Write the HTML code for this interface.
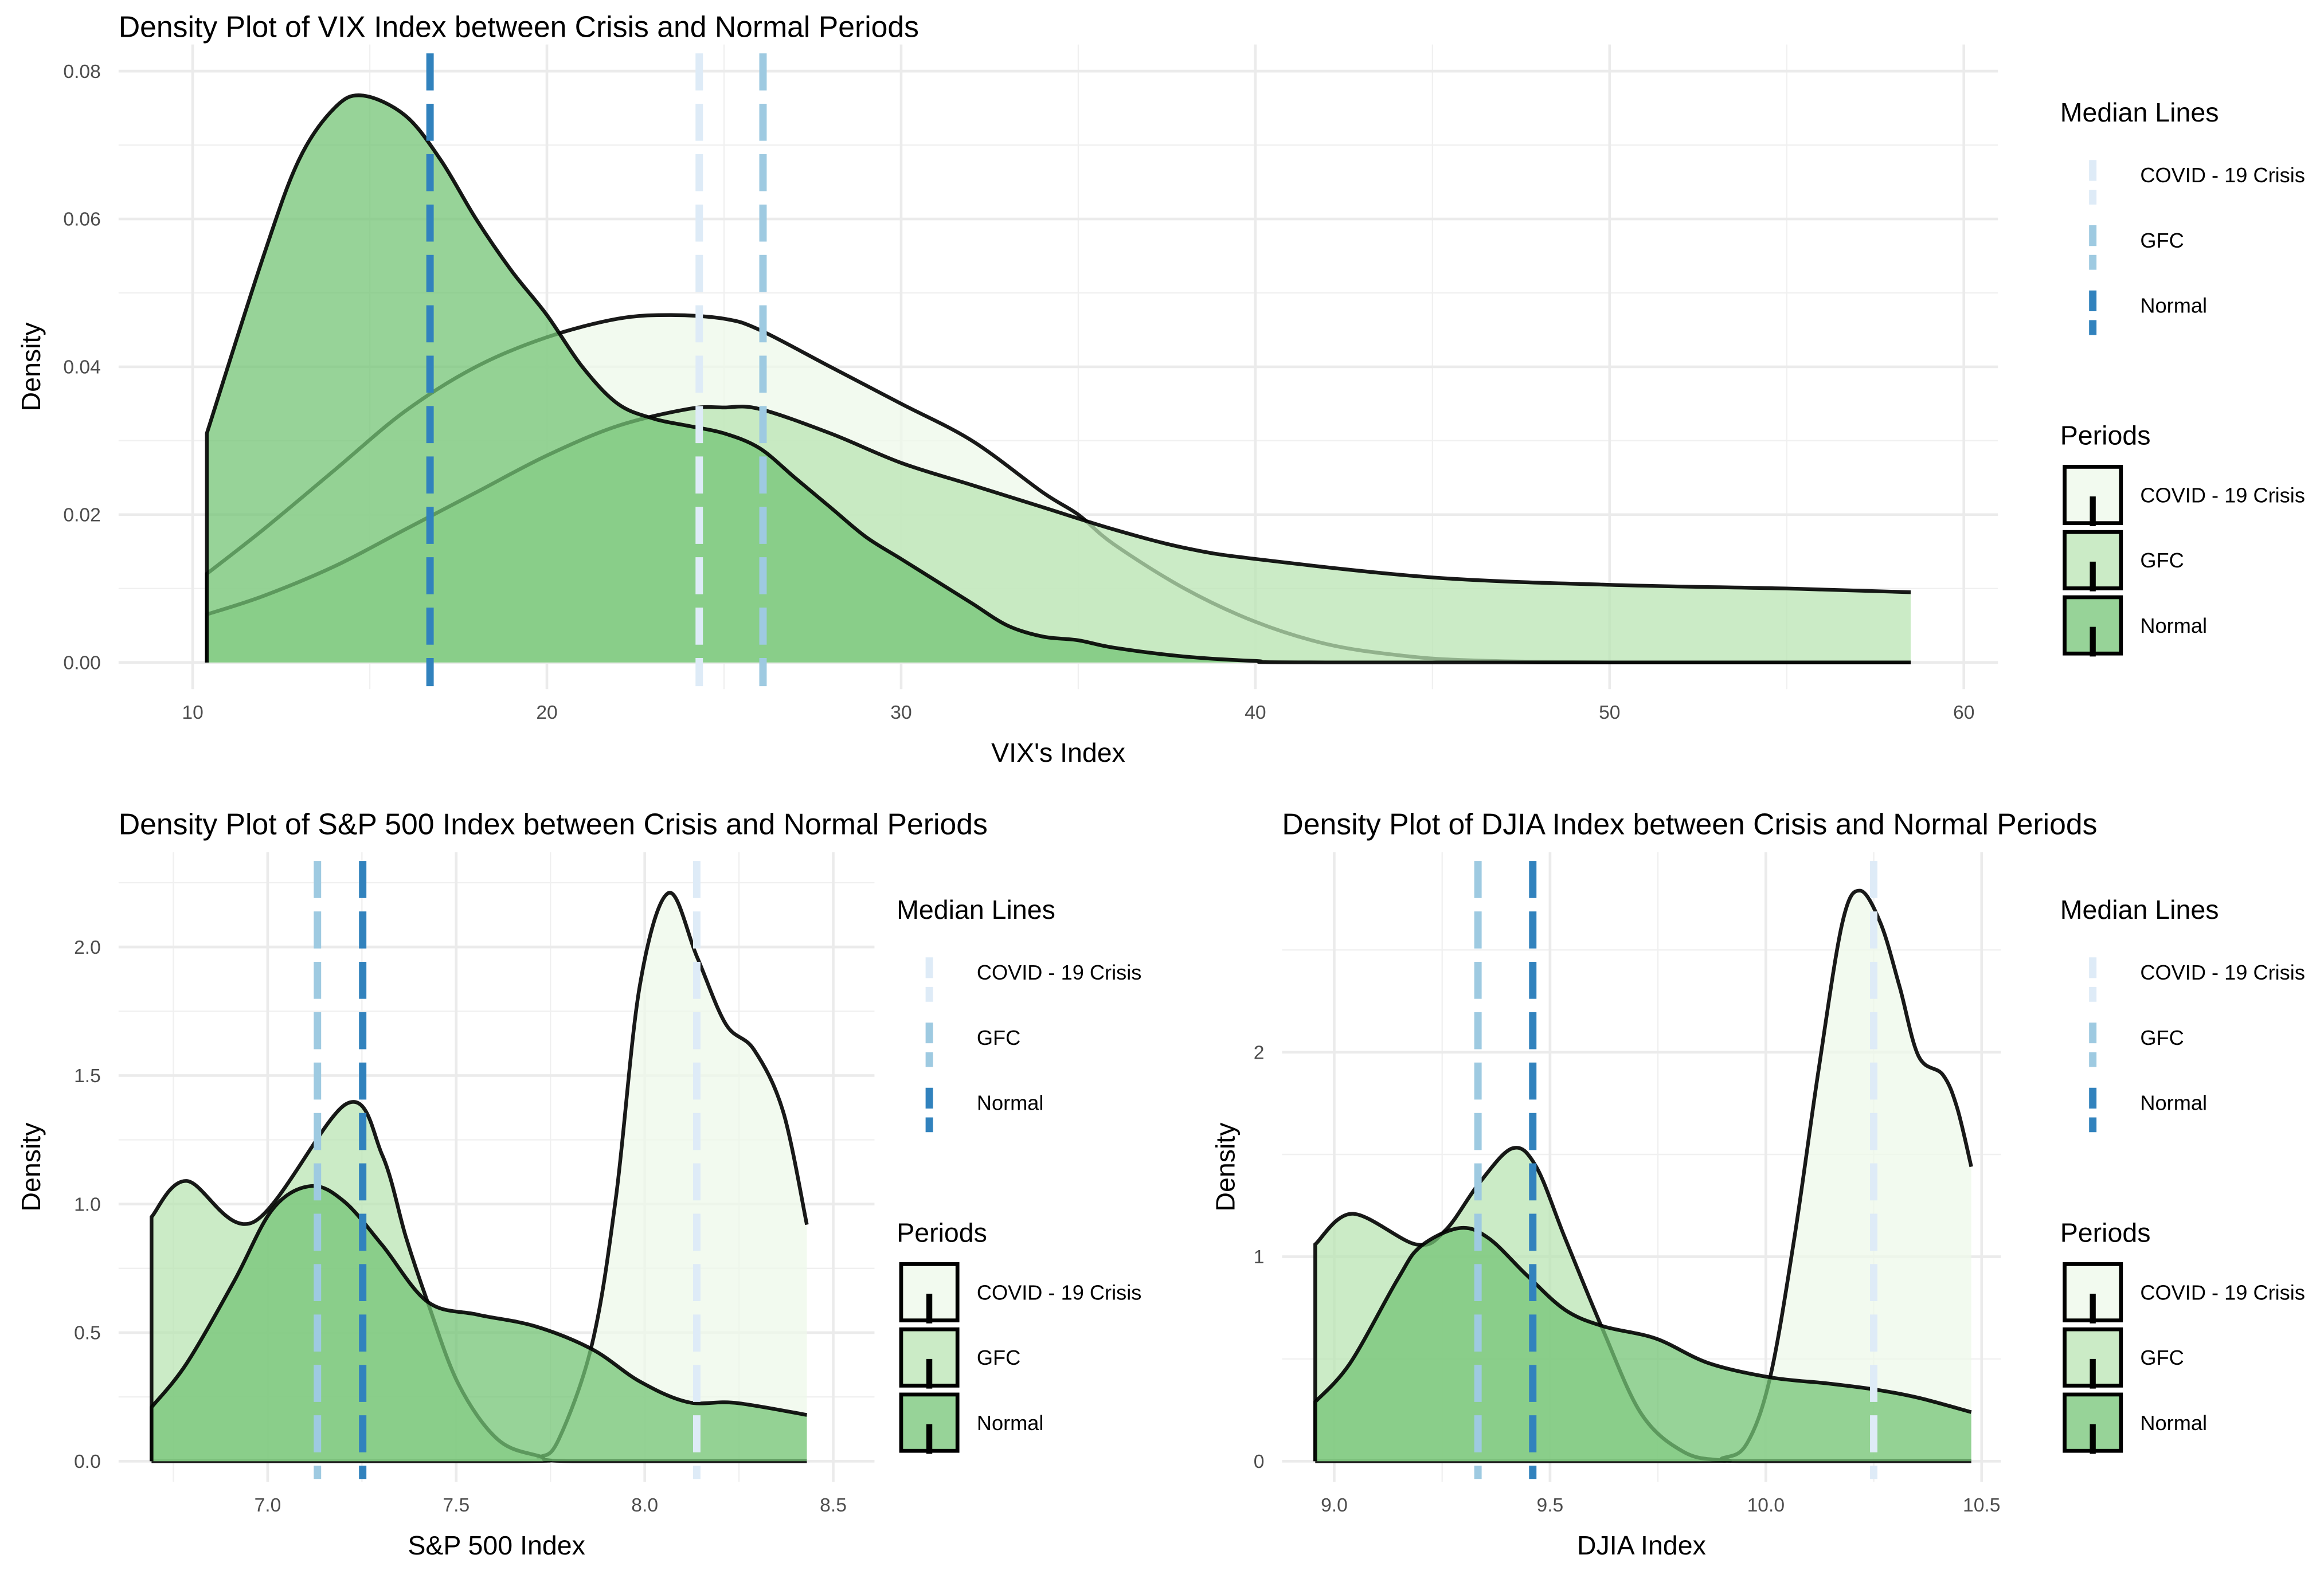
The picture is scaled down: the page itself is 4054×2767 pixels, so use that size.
<!DOCTYPE html>
<html><head><meta charset="utf-8"><style>
html,body{margin:0;padding:0;background:#fff}
svg{display:block;font-family:"Liberation Sans",sans-serif}
</style></head><body>
<svg id="c" width="4054" height="2767" viewBox="0 0 1568 1070.2" xmlns="http://www.w3.org/2000/svg"></svg>
<script>
// ---- VIX data ----
const vixNormalX=[10.4,12,13,14,14.8,16,17,18,19,20,21,22,23,24,25,26,27,28,29,30,31,32,33,34,35,36,38,40,42,58.5];
const vixNormalY=[0.031,0.055,0.068,0.075,0.0767,0.074,0.068,0.06,0.053,0.047,0.04,0.035,0.033,0.032,0.031,0.029,0.025,0.021,0.017,0.014,0.011,0.008,0.005,0.0035,0.003,0.002,0.0008,0.0002,0,0];
const vixCovidX=[10.4,12,14,16,18,20,22,23.5,25,26,28,30,32,34,35,36,38,40,42,44,46,50,58.5];
const vixCovidY=[0.012,0.018,0.026,0.034,0.04,0.044,0.0465,0.047,0.0465,0.045,0.04,0.035,0.03,0.023,0.02,0.016,0.01,0.0055,0.0025,0.001,0.0003,0,0];
const vixGfcX=[10.4,12,14,16,18,20,22,24,25,26,28,30,32,34,36,38,40,45,50,55,58.5];
const vixGfcY=[0.0065,0.009,0.013,0.018,0.023,0.028,0.032,0.0343,0.0345,0.0343,0.031,0.027,0.024,0.021,0.018,0.0155,0.014,0.0115,0.0105,0.01,0.0095];
const vixMedians=[24.3,26.1,16.7]; // COVID, GFC, Normal
const vixXTicks=[10,20,30,40,50,60];
const vixYTicks=[0,0.02,0.04,0.06,0.08];
const vixYLabels=["0.00","0.02","0.04","0.06","0.08"];
// ---- S&P data ----
const spNormalX=[6.692,6.785,6.911,7.013,7.114,7.203,7.304,7.424,7.557,7.709,7.861,7.987,8.114,8.24,8.43];
const spNormalY=[0.21,0.38,0.70,0.98,1.07,1.01,0.84,0.62,0.57,0.525,0.435,0.31,0.23,0.227,0.18];
const spGfcX=[6.692,6.785,6.962,7.209,7.304,7.367,7.424,7.506,7.61,7.72,7.81,8.43];
const spGfcY=[0.95,1.09,0.93,1.39,1.19,0.87,0.62,0.30,0.085,0.02,0,0];
const spCovidX=[6.692,7.66,7.72,7.772,7.861,7.924,7.987,8.063,8.139,8.215,8.29,8.367,8.43];
const spCovidY=[0,0,0.015,0.085,0.46,1.03,1.85,2.21,1.96,1.70,1.60,1.36,0.92];
const spMedians=[8.138,7.132,7.252];
const spXTicks=[7.0,7.5,8.0,8.5];
const spXLabels=["7.0","7.5","8.0","8.5"];
const spYTicks=[0,0.5,1,1.5,2];
const spYLabels=["0.0","0.5","1.0","1.5","2.0"];
// ---- DJIA data ----
const djNormalX=[8.956,9.037,9.147,9.2,9.29,9.358,9.446,9.535,9.623,9.745,9.867,10.01,10.144,10.255,10.354,10.476];
const djNormalY=[0.29,0.48,0.89,1.05,1.14,1.09,0.91,0.74,0.66,0.6,0.48,0.41,0.38,0.35,0.31,0.24];
const djGfcX=[8.956,9.042,9.19,9.258,9.336,9.413,9.468,9.535,9.623,9.712,9.81,9.9,10.0,10.476];
const djGfcY=[1.06,1.21,1.06,1.13,1.36,1.53,1.44,1.09,0.64,0.23,0.045,0.004,0,0];
const djCovidX=[8.956,9.83,9.9,9.956,10.01,10.066,10.122,10.177,10.218,10.266,10.31,10.354,10.41,10.443,10.476];
const djCovidY=[0,0,0.015,0.086,0.41,1.09,1.91,2.63,2.79,2.63,2.32,1.98,1.89,1.73,1.44];
const djMedians=[10.25,9.333,9.46];
const djXTicks=[9.0,9.5,10.0,10.5];
const djXLabels=["9.0","9.5","10.0","10.5"];
const djYTicks=[0,1,2];
const djYLabels=["0","1","2"];

const NS="http://www.w3.org/2000/svg";
const svg=document.getElementById('c');
function mk(tag,attrs,parent){const e=document.createElementNS(NS,tag);for(const k in attrs)e.setAttribute(k,attrs[k]);(parent||svg).appendChild(e);return e;}
function txt(s,attrs,parent){const e=mk('text',attrs,parent);e.textContent=s;return e;}
const fills=["#edf8e9","#bae4b3","#74c476"];
const medCols=["#deebf7","#9ecae1","#3182bd"];
const names=["covid","gfc","normal"];
function smooth(pts,base){let d="M"+pts[0][0]+","+pts[0][1];
  for(let i=0;i<pts.length-1;i++){const p0=pts[Math.max(0,i-1)],p1=pts[i],p2=pts[i+1],p3=pts[Math.min(pts.length-1,i+2)];
    let c1=[p1[0]+(p2[0]-p0[0])/6,Math.min(base,p1[1]+(p2[1]-p0[1])/6)],c2=[p2[0]-(p3[0]-p1[0])/6,Math.min(base,p2[1]-(p3[1]-p1[1])/6)];
    d+=" C"+c1[0]+","+c1[1]+" "+c2[0]+","+c2[1]+" "+p2[0]+","+p2[1];}
  return d;}
function panel(o){
  const g=mk('g',{});
  
  
  const sx=v=>o.x0+(v-o.xv0)*o.kx, sy=v=>o.y0-v*o.ky;
  for(let i=0;i<o.xt.length-1;i++){const m=(o.xt[i]+o.xt[i+1])/2;mk('line',{x1:sx(m),x2:sx(m),y1:o.top,y2:o.bot,stroke:'#f0f0f0','stroke-width':0.9},g);}
  if(o.xminEdge){mk('line',{x1:sx(o.xminEdge),x2:sx(o.xminEdge),y1:o.top,y2:o.bot,stroke:'#f0f0f0','stroke-width':0.9},g);}
  for(let i=0;i<o.yt.length-1;i++){const m=(o.yt[i]+o.yt[i+1])/2;mk('line',{x1:o.left,x2:o.right,y1:sy(m),y2:sy(m),stroke:'#f0f0f0','stroke-width':0.9},g);}
  if(o.yExtra){const m=o.yt[o.yt.length-1]+(o.yt[1]-o.yt[0])/2;mk('line',{x1:o.left,x2:o.right,y1:sy(m),y2:sy(m),stroke:'#f0f0f0','stroke-width':0.9},g);}
  o.xt.forEach((t,i)=>{mk('line',{x1:sx(t),x2:sx(t),y1:o.top,y2:o.bot,stroke:'#ebebeb','stroke-width':1.8},g);
    const l=txt(o.xl[i],{x:sx(t),y:o.bot+20,'font-size':13,fill:'#4d4d4d','text-anchor':'middle'},g);
    });
  o.yt.forEach((t,i)=>{mk('line',{x1:o.left,x2:o.right,y1:sy(t),y2:sy(t),stroke:'#ebebeb','stroke-width':1.8},g);
    const l=txt(o.yl[i],{x:o.left-12,y:sy(t)+4.5,'font-size':13,fill:'#4d4d4d','text-anchor':'end'},g);
    });
  o.series.forEach((s,i)=>{
    const pts=s[0].map((x,j)=>[sx(x),sy(s[1][j])]);
    const top=smooth(pts,sy(0));
    const a=mk('path',{d:top+" L"+pts[pts.length-1][0]+","+sy(0)+" L"+pts[0][0]+","+sy(0)+" Z",fill:fills[i],'fill-opacity':0.75,stroke:'none'},g);
    
    const l=mk('path',{d:"M"+pts[0][0]+","+sy(0)+" L"+pts[0][0]+","+pts[0][1]+top.replace(/^M[^ ]+/,''),fill:'none',stroke:'#000','stroke-width':2.5,'stroke-opacity':0.9},g);
    
  });
  o.med.forEach((m,i)=>{const l=mk('line',{x1:sx(m),x2:sx(m),y1:o.top+6,y2:o.bot-2,stroke:medCols[i],'stroke-width':5,'stroke-dasharray':'25 9'},g);
    });
  const t=txt(o.title,{x:o.titleX,y:o.titleY,'font-size':20,fill:'#000'},g);
  const xa=txt(o.xlab,{x:(o.left+o.right)/2,y:o.bot+49,'font-size':18,fill:'#000','text-anchor':'middle'},g);
  const ya=txt('Density',{x:0,y:0,'font-size':18,fill:'#000','text-anchor':'middle',transform:`translate(${o.ylabX},${(o.top+o.bot)/2}) rotate(-90)`},g);
  const L=o.lx, T=o.ly;
  const lg=mk('g',{},g);
  txt('Median Lines',{x:L,y:T,'font-size':18,fill:'#000'},lg);
  const labs=['COVID - 19 Crisis','GFC','Normal'];
  labs.forEach((s,i)=>{const cy=T+36+i*44;
    const e=mk('line',{x1:L+22,x2:L+22,y1:cy-10,y2:cy+20,stroke:medCols[i],'stroke-width':5,'stroke-dasharray':'14 6'},lg);
    
    const tt=txt(s,{x:L+54,y:cy+5,'font-size':14,fill:'#000'},lg);});
  txt('Periods',{x:L,y:T+218,'font-size':18,fill:'#000'},lg);
  labs.forEach((s,i)=>{const by=T+233+i*44;
    const r=mk('rect',{x:L+3,y:by,width:38,height:38,fill:fills[i],'fill-opacity':0.75,stroke:'#000','stroke-width':2.6},lg);
    
    mk('line',{x1:L+22,x2:L+22,y1:by+20,y2:by+40,stroke:'#000','stroke-width':4},lg);
    const tt=txt(s,{x:L+54,y:by+24,'font-size':14,fill:'#000'},lg);});
}
panel({id:'vix',x0:130,xv0:10,kx:23.9,y0:447,ky:4987.5,left:80,right:1348,top:30,bot:465,
  xt:vixXTicks,xl:vixXTicks.map(String),yt:vixYTicks,yl:vixYLabels,yExtra:true,
  series:[[vixCovidX,vixCovidY],[vixGfcX,vixGfcY],[vixNormalX,vixNormalY]],med:vixMedians,
  title:'Density Plot of VIX Index between Crisis and Normal Periods',titleX:80,titleY:25,xlab:"VIX's Index",ylabX:27,lx:1390,ly:82});
panel({id:'sp500',x0:180.6,xv0:7.0,kx:254.4,y0:986,ky:173.5,left:80,right:590,top:575,bot:1000,
  xt:spXTicks,xl:spXLabels,yt:spYTicks,yl:spYLabels,yExtra:true,xminEdge:6.75,
  series:[[spCovidX,spCovidY],[spGfcX,spGfcY],[spNormalX,spNormalY]],med:spMedians,
  title:'Density Plot of S&P 500 Index between Crisis and Normal Periods',titleX:80,titleY:563,xlab:'S&P 500 Index',ylabX:27,lx:605,ly:620});
panel({id:'djia',x0:900.2,xv0:9.0,kx:291.2,y0:986,ky:138,left:865,right:1350,top:575,bot:1000,
  xt:djXTicks,xl:djXLabels,yt:djYTicks,yl:djYLabels,yExtra:true,
  series:[[djCovidX,djCovidY],[djGfcX,djGfcY],[djNormalX,djNormalY]],med:djMedians,
  title:'Density Plot of DJIA Index between Crisis and Normal Periods',titleX:865,titleY:563,xlab:'DJIA Index',ylabX:833,lx:1390,ly:620});
</script>
</body></html>
